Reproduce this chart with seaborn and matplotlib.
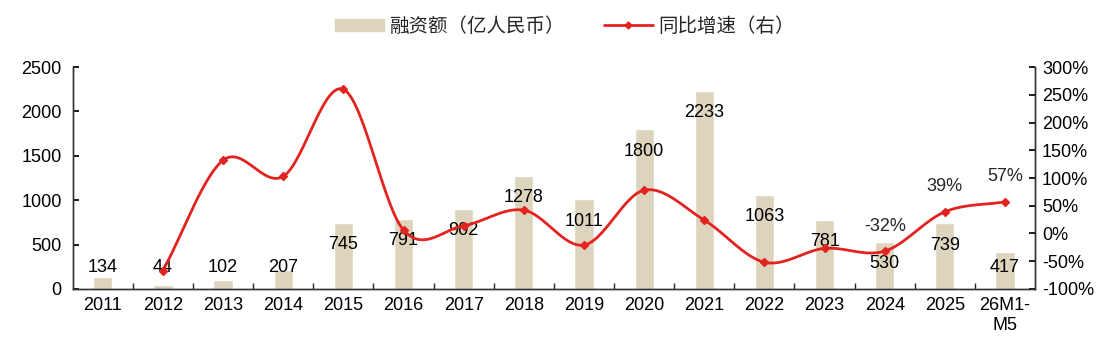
import numpy as np
import pandas as pd
import matplotlib
matplotlib.use("Agg")
import matplotlib.pyplot as plt
import seaborn as sns
from matplotlib.ticker import FuncFormatter, FixedLocator

#%% data
years = ["2011", "2012", "2013", "2014", "2015", "2016", "2017", "2018",
         "2019", "2020", "2021", "2022", "2023", "2024", "2025", "26M1-\nM5"]
amount = [134, 44, 102, 207, 745, 791, 902, 1278,
          1011, 1800, 2233, 1063, 781, 530, 739, 417]
# yoy growth (%), no value for 2011
growth = [np.nan, -67, 132, 103, 260, 6, 14, 42,
          -21, 78, 24, -52, -27, -32, 39, 57]
growth_labels = {13: "-32%", 14: "39%", 15: "57%"}

bar_name = "融资额（亿人民币）"
line_name = "同比增速（右）"

bar_color = "#DDD4BD"
red = "#E3231F"

#%% style
sns.set_theme(style="white")
plt.rcParams["font.family"] = ["Liberation Sans", "Noto Sans CJK SC", "DejaVu Sans"]
plt.rcParams["axes.unicode_minus"] = False

df = pd.DataFrame({"year": years, "amount": amount, "growth": growth})


def smooth_curve(x, y, n=30):
    # catmull-rom style smoothing like the excel "smoothed line"
    x = np.asarray(x, float); y = np.asarray(y, float)
    px = np.concatenate([[2 * x[0] - x[1]], x, [2 * x[-1] - x[-2]]])
    py = np.concatenate([[2 * y[0] - y[1]], y, [2 * y[-1] - y[-2]]])
    xs, ys = [], []
    for i in range(1, len(px) - 2):
        t = np.linspace(0, 1, n, endpoint=False)
        for p, out in ((px, xs), (py, ys)):
            p0, p1, p2, p3 = p[i - 1], p[i], p[i + 1], p[i + 2]
            out.extend(0.5 * ((2 * p1) + (-p0 + p2) * t
                              + (2 * p0 - 5 * p1 + 4 * p2 - p3) * t ** 2
                              + (-p0 + 3 * p1 - 3 * p2 + p3) * t ** 3))
    xs.append(x[-1]); ys.append(y[-1])
    return np.array(xs), np.array(ys)


#%% plot
fig, ax = plt.subplots(figsize=(11.19, 3.48), dpi=100)
fig.subplots_adjust(left=0.065, right=0.925, bottom=0.17, top=0.807)

sns.barplot(ax=ax, data=df, x="year", y="amount", color=bar_color,
            width=0.32, saturation=1, zorder=2)
ax.set_ylim(0, 2500)
ax.set_xlim(-0.5, len(years) - 0.5)
ax.set_yticks(np.arange(0, 2501, 500))
ax.set_xlabel("")
ax.set_ylabel("")

for i, v in enumerate(amount):
    ax.text(i, max(v - 248, 236), str(v), ha="center", va="center",
            fontsize=13, color="black", zorder=5)

ax2 = ax.twinx()
idx = np.arange(1, len(years))
g = np.array(growth[1:], float)
sx, sy = smooth_curve(idx, g)
ax2.plot(sx, sy, color=red, lw=2, zorder=3)
ax2.plot(idx, g, ls="none", marker="D", ms=4.5, color=red, zorder=4)
ax2.set_ylim(-100, 300)
ax2.set_yticks(np.arange(-100, 301, 50))
ax2.yaxis.set_major_formatter(FuncFormatter(lambda v, p: f"{v:.0f}%"))
for i, txt in growth_labels.items():
    ax2.annotate(txt, (i, growth[i]), xytext=(0, 18), textcoords="offset points",
                 ha="center", va="center", fontsize=13)

for a in (ax, ax2):
    for s in a.spines.values():
        s.set_visible(True)
        s.set_color("#333333")
        s.set_linewidth(1)
    a.spines["top"].set_visible(False)
    a.tick_params(labelsize=13, colors="black", direction="in", length=4)

ax.tick_params(axis="y", left=True, pad=8)
ax2.tick_params(axis="y", right=True, pad=5)
ax.tick_params(axis="x", which="major", length=0, pad=6)
ax.xaxis.set_minor_locator(FixedLocator(np.arange(0.5, len(years) - 1, 1)))
ax.tick_params(axis="x", which="minor", bottom=True, direction="in", length=4)

# legend
bar_h = plt.Rectangle((0, 0), 1, 1, color=bar_color)
line_h = plt.Line2D([], [], color=red, lw=2, marker="D", ms=3.5)
fig.legend([bar_h, line_h], [bar_name, line_name], loc="center",
           bbox_to_anchor=(0.505, 0.925), ncol=2, frameon=False,
           prop={"family": ["Noto Sans CJK SC", "DejaVu Sans"], "size": 14},
           handlelength=2.5, handleheight=0.55, handletextpad=0.3,
           columnspacing=2.0)

fig.savefig("out.png", dpi=100)
